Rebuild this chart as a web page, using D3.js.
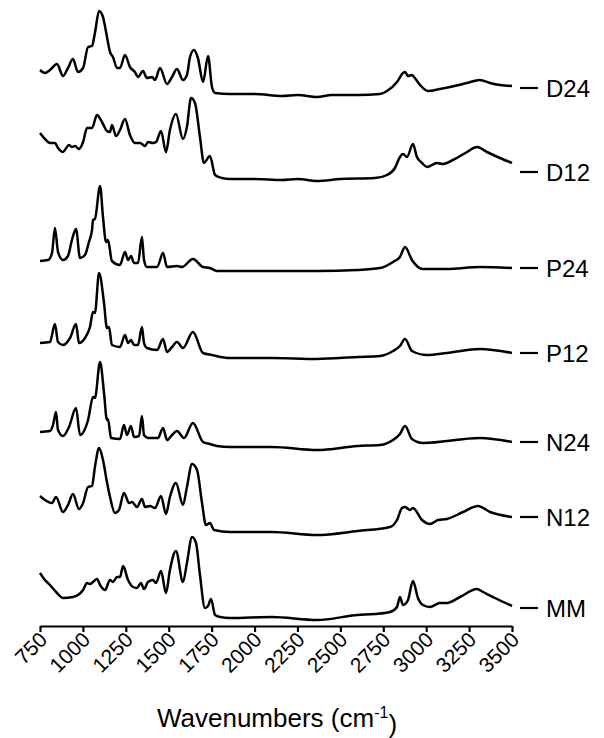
<!DOCTYPE html>
<html>
<head>
<meta charset="utf-8">
<script src="https://cdn.jsdelivr.net/npm/d3@7"></script>
<style>
  body { margin: 0; background: #fff; }
  text { font-family: Arial, "Liberation Sans", sans-serif; fill: #000; }
  .trace { fill: none; stroke: #000; stroke-width: 2.5; stroke-linejoin: round; }
</style>
</head>
<body>
<svg width="604" height="738"></svg>
<script>
// FTIR spectra, absorbance stacked with offset (a.u.) vs wavenumber (cm-1)
var names = ["D24", "D12", "P24", "P12", "N24", "N12", "MM"];
var tickValues = [750, 1000, 1250, 1500, 1750, 2000, 2250, 2500, 2750, 3000, 3250, 3500];
// where the "— name" tag sits, in the same absorbance units
var labelAt = [5.38, 4.54, 3.58, 2.73, 1.84, 1.09, 0.18];

var d24 = [[750,5.56],[779,5.53],[808,5.56],[849,5.62],[884,5.50],[913,5.58],[942,5.67],[971,5.54],[1001,5.58],
  [1030,5.79],[1053,5.80],[1070,5.93],[1094,6.15],[1117,6.09],[1135,5.94],[1158,5.74],[1175,5.69],[1199,5.58],
  [1216,5.58],[1245,5.71],[1274,5.59],[1303,5.54],[1321,5.49],[1350,5.55],[1373,5.48],[1403,5.49],[1420,5.46],
  [1449,5.58],[1490,5.42],[1519,5.49],[1548,5.57],[1583,5.46],[1606,5.51],[1624,5.69],[1647,5.76],[1670,5.68],
  [1700,5.44],[1729,5.70],[1752,5.39],[1770,5.33],[1857,5.32],[2000,5.32],[2160,5.30],[2250,5.31],[2364,5.29],
  [2450,5.31],[2600,5.31],[2731,5.32],[2772,5.35],[2830,5.44],[2865,5.53],[2877,5.54],[2894,5.50],[2917,5.51],
  [2929,5.49],[2964,5.41],[3011,5.35],[3080,5.37],[3139,5.39],[3238,5.43],[3313,5.46],[3372,5.43],[3430,5.41],[3500,5.40]];

var d12 = [[750,4.93],[779,4.87],[808,4.83],[837,4.83],[855,4.78],[884,4.74],[907,4.79],[919,4.81],[936,4.79],
  [954,4.80],[977,4.77],[1001,4.84],[1024,4.98],[1053,4.98],[1082,5.11],[1111,5.04],[1140,4.95],[1158,4.94],
  [1169,5.01],[1193,4.90],[1216,4.96],[1245,5.07],[1274,4.91],[1303,4.83],[1333,4.83],[1362,4.80],[1379,4.84],
  [1408,4.83],[1426,4.84],[1455,4.95],[1484,4.74],[1507,4.96],[1542,5.12],[1583,4.87],[1606,4.99],[1630,5.28],
  [1653,5.23],[1682,4.89],[1705,4.63],[1740,4.70],[1770,4.51],[1810,4.48],[1857,4.47],[2000,4.47],[2160,4.46],
  [2250,4.47],[2364,4.45],[2500,4.47],[2700,4.48],[2772,4.51],[2818,4.58],[2847,4.69],[2865,4.72],[2888,4.69],
  [2923,4.82],[2946,4.69],[2976,4.63],[3005,4.59],[3063,4.63],[3098,4.62],[3156,4.66],[3238,4.74],[3296,4.79],
  [3354,4.74],[3430,4.68],[3500,4.63]];

var p24 = [[750,3.65],[797,3.66],[820,3.73],[837,3.98],[855,3.74],[884,3.66],[913,3.70],[936,3.86],[960,3.97],
  [983,3.68],[1012,3.71],[1035,3.84],[1053,3.96],[1059,4.06],[1070,4.07],[1100,4.40],[1117,4.09],[1135,3.84],
  [1146,3.86],[1169,3.65],[1216,3.61],[1245,3.74],[1263,3.66],[1280,3.70],[1298,3.63],[1321,3.63],[1344,3.89],
  [1356,3.66],[1373,3.59],[1432,3.59],[1467,3.73],[1490,3.59],[1548,3.60],[1577,3.59],[1641,3.67],[1700,3.59],
  [1740,3.58],[1781,3.55],[1857,3.55],[2100,3.55],[2364,3.55],[2600,3.56],[2731,3.58],[2807,3.64],[2847,3.69],
  [2877,3.79],[2917,3.66],[2981,3.57],[3121,3.57],[3313,3.59],[3500,3.58]];

var p12 = [[750,2.83],[808,2.84],[837,3.02],[855,2.84],[884,2.81],[925,2.88],[960,3.02],[977,2.83],[1012,2.88],
  [1041,2.99],[1059,3.14],[1070,3.13],[1094,3.53],[1123,3.23],[1140,2.98],[1152,2.99],[1169,2.81],[1216,2.79],
  [1245,2.91],[1263,2.83],[1280,2.86],[1298,2.81],[1321,2.81],[1344,2.99],[1356,2.83],[1373,2.78],[1432,2.76],
  [1467,2.87],[1490,2.74],[1519,2.79],[1548,2.84],[1583,2.78],[1641,2.94],[1700,2.73],[1752,2.71],[1857,2.68],
  [2100,2.68],[2364,2.67],[2600,2.69],[2731,2.70],[2807,2.75],[2847,2.80],[2877,2.87],[2917,2.75],[3005,2.71],
  [3121,2.73],[3313,2.77],[3500,2.73]];

var n24 = [[750,1.94],[808,1.95],[826,2.01],[843,2.14],[855,1.96],[884,1.90],[919,1.99],[960,2.18],[983,1.91],
  [1030,2.06],[1059,2.29],[1070,2.28],[1100,2.64],[1123,2.33],[1140,2.06],[1146,2.07],[1164,1.88],[1216,1.87],
  [1239,2.01],[1257,1.91],[1280,2.00],[1298,1.89],[1327,1.90],[1344,2.10],[1356,1.91],[1379,1.88],[1437,1.88],
  [1467,1.98],[1490,1.86],[1519,1.91],[1548,1.95],[1589,1.88],[1641,2.03],[1700,1.84],[1740,1.82],[1781,1.80],
  [1857,1.79],[2100,1.79],[2364,1.76],[2600,1.80],[2731,1.81],[2807,1.86],[2847,1.92],[2877,2.00],[2917,1.87],
  [2981,1.83],[3313,1.88],[3500,1.84]];

var n12 = [[750,1.30],[779,1.26],[820,1.23],[843,1.29],[884,1.14],[913,1.21],[942,1.32],[977,1.17],[1001,1.23],
  [1030,1.39],[1053,1.40],[1070,1.59],[1094,1.78],[1117,1.66],[1140,1.44],[1158,1.29],[1187,1.13],[1210,1.16],
  [1239,1.33],[1269,1.23],[1286,1.24],[1315,1.19],[1344,1.27],[1362,1.19],[1391,1.20],[1420,1.18],[1455,1.30],
  [1484,1.12],[1507,1.29],[1542,1.43],[1583,1.21],[1606,1.39],[1636,1.62],[1665,1.56],[1694,1.23],[1717,1.01],
  [1740,1.03],[1764,0.96],[1857,0.94],[2100,0.94],[2364,0.91],[2600,0.95],[2789,0.99],[2830,1.06],[2859,1.18],
  [2877,1.19],[2906,1.16],[2923,1.18],[2976,1.06],[3022,1.02],[3069,1.06],[3121,1.07],[3215,1.14],[3302,1.20],
  [3372,1.14],[3500,1.09]];

var mm = [[750,0.53],[779,0.46],[808,0.41],[849,0.33],[884,0.28],[942,0.29],[971,0.31],[1001,0.36],[1024,0.43],
  [1041,0.42],[1059,0.44],[1082,0.47],[1100,0.41],[1129,0.36],[1158,0.46],[1175,0.44],[1199,0.49],[1216,0.49],
  [1234,0.60],[1263,0.46],[1292,0.39],[1315,0.38],[1338,0.43],[1356,0.37],[1379,0.44],[1408,0.46],[1426,0.43],
  [1455,0.55],[1484,0.33],[1507,0.56],[1542,0.75],[1583,0.44],[1606,0.63],[1636,0.89],[1659,0.83],[1682,0.51],
  [1711,0.18],[1729,0.20],[1746,0.27],[1770,0.11],[1799,0.09],[1857,0.08],[2100,0.09],[2364,0.06],[2600,0.11],
  [2700,0.12],[2789,0.14],[2830,0.19],[2847,0.29],[2865,0.21],[2894,0.26],[2923,0.45],[2952,0.28],[2981,0.21],
  [3022,0.19],[3080,0.23],[3121,0.23],[3197,0.29],[3296,0.37],[3331,0.34],[3401,0.28],[3500,0.20]];

var spectra = [d24, d12, p24, p12, n24, n12, mm];

var svg = d3.select("svg"),
    width = +svg.attr("width"),
    height = +svg.attr("height");

var x = d3.scaleLinear().domain([750, 3500]).range([40, 512]);
var y = d3.scaleLinear().domain([0, 6.2]).range([626, 6]);

var line = d3.line()
    .x(function(d) { return x(d[0]); })
    .y(function(d) { return y(d[1]); })
    .curve(d3.curveMonotoneX);

svg.append("g")
    .selectAll("path")
    .data(spectra)
  .enter().append("path")
    .attr("class", "trace")
    .attr("d", line);

// name tags on the right
var tags = svg.append("g")
  .selectAll("g")
    .data(names)
  .enter().append("g")
    .attr("transform", function(d, i) { return "translate(" + x(3500) + "," + y(labelAt[i]) + ")"; });

tags.append("line")
    .attr("x1", 8).attr("x2", 26)
    .attr("stroke", "#000")
    .attr("stroke-width", 2.2);

tags.append("text")
    .attr("x", 34)
    .attr("dy", "0.36em")
    .style("font-size", "24px")
    .text(function(d) { return d; });

// x axis
var xAxis = svg.append("g")
    .attr("transform", "translate(0," + y(0) + ")")
    .call(d3.axisBottom(x).tickValues(tickValues).tickSize(6).tickSizeOuter(0).tickFormat(d3.format("d")));

xAxis.select(".domain").attr("stroke-width", 2.2);
xAxis.selectAll(".tick line").attr("stroke-width", 2.2);
xAxis.selectAll(".tick text")
    .attr("x", null).attr("y", null).attr("dy", null)
    .attr("transform", "translate(8,15) rotate(-45)")
    .style("text-anchor", "end")
    .style("font-size", "21px")
    .style("font-family", "Arial, 'Liberation Sans', sans-serif");

var title = svg.append("text")
    .attr("x", (x(750) + x(3500)) / 2 + 1)
    .attr("y", 727)
    .style("text-anchor", "middle")
    .style("font-size", "26px");
title.append("tspan").text("Wavenumbers (cm");
title.append("tspan").attr("dy", "-0.55em").style("font-size", "16px").text("-1");
title.append("tspan").attr("dy", "0.55em").text(")");
</script>
</body>
</html>
